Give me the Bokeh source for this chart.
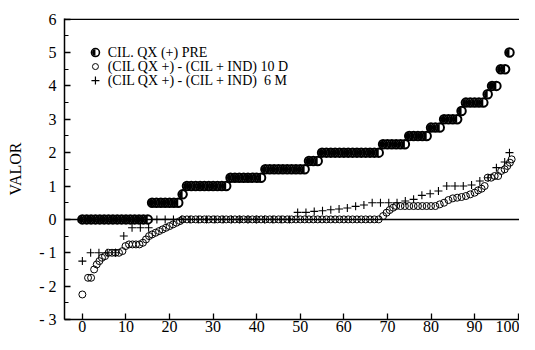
import math
from bokeh.plotting import figure
from bokeh.models import Range1d, Span, Label, FixedTicker
from bokeh.embed import file_html
from bokeh.resources import INLINE

# ---------------- data ----------------
# Series 1: CIL. QX (+) PRE
PRE_X = [0, 1, 2, 3, 4, 5, 6, 7, 8, 9, 10, 11, 12, 13, 14, 15,
         16, 17, 18, 19, 20, 21, 22, 23,
         24, 25, 26, 27, 28, 29, 30, 31, 32, 33,
         34, 35, 36, 37, 38, 39, 40, 41,
         42, 43, 44, 45, 46, 47, 48, 49, 50, 51,
         52, 53, 54,
         55, 56, 57, 58, 59, 60, 61, 62, 63, 64, 65, 66, 67, 68,
         69, 70, 71, 72, 73, 74,
         75, 76, 77, 78, 79,
         80, 81, 82,
         83, 84, 85, 86, 87,
         88, 89, 90, 91, 92, 93,
         94, 95, 96, 97, 98]
PRE_Y = [0, 0, 0, 0, 0, 0, 0, 0, 0, 0, 0, 0, 0, 0, 0, 0,
         0.5, 0.5, 0.5, 0.5, 0.5, 0.5, 0.5, 0.75,
         1.0, 1.0, 1.0, 1.0, 1.0, 1.0, 1.0, 1.0, 1.0, 1.0,
         1.25, 1.25, 1.25, 1.25, 1.25, 1.25, 1.25, 1.25,
         1.5, 1.5, 1.5, 1.5, 1.5, 1.5, 1.5, 1.5, 1.5, 1.5,
         1.75, 1.75, 1.75,
         2.0, 2.0, 2.0, 2.0, 2.0, 2.0, 2.0, 2.0, 2.0, 2.0, 2.0, 2.0, 2.0, 2.0,
         2.25, 2.25, 2.25, 2.25, 2.25, 2.25,
         2.5, 2.5, 2.5, 2.5, 2.5,
         2.75, 2.75, 2.75,
         3.0, 3.0, 3.0, 3.0, 3.25,
         3.5, 3.5, 3.5, 3.5, 3.5, 3.75,
         4.0, 4.0, 4.5, 4.5, 5.0]

# Series 2: (CIL QX +) - (CIL + IND) 10 D
D10_X = [0, 1.3, 2.0, 2.7, 3.3, 3.9, 4.5, 5.2, 6.0, 6.8, 7.6, 8.4, 9.2, 9.9,
         10.7, 11.5, 12.3, 13.1, 13.9, 14.6, 15.3, 16.0, 16.8, 17.6, 18.4,
         19.2, 20.0, 20.8, 21.6, 22.4,
         23, 24, 25, 26, 27, 28, 29, 30, 31, 32, 33, 34, 35, 36, 37, 38, 39,
         40, 41, 42, 43, 44, 45, 46, 47, 48, 49, 50, 51, 52, 53, 54, 55, 56,
         57, 58, 59, 60, 61, 62, 63, 64, 65, 66, 67, 68,
         69, 69.8, 70.5, 71.3, 72, 73, 74, 75, 76, 77, 78, 79, 80, 81, 82,
         83, 84, 85, 86, 87, 88, 89, 90, 90.8, 91.6, 92.3, 93, 93.8, 94.6,
         95.4, 96.1, 96.9, 97.5, 98.1, 98.5]
D10_Y = [-2.25, -1.75, -1.75, -1.5, -1.35, -1.25, -1.15, -1.1, -1.0, -1.0,
         -1.0, -1.0, -0.95, -0.8, -0.75, -0.75, -0.75, -0.75, -0.7, -0.6,
         -0.5, -0.45, -0.4, -0.35, -0.3, -0.25, -0.2, -0.15, -0.1, -0.05,
         0, 0, 0, 0, 0, 0, 0, 0, 0, 0, 0, 0, 0, 0, 0, 0, 0,
         0, 0, 0, 0, 0, 0, 0, 0, 0, 0, 0, 0, 0, 0, 0, 0, 0,
         0, 0, 0, 0, 0, 0, 0, 0, 0, 0, 0, 0,
         0.1, 0.2, 0.28, 0.35, 0.4, 0.4, 0.4, 0.4, 0.4, 0.4, 0.4, 0.4, 0.4,
         0.4, 0.45, 0.5, 0.58, 0.63, 0.65, 0.67, 0.7, 0.75, 0.8, 0.87, 0.92,
         1.0, 1.25, 1.25, 1.3, 1.3, 1.45, 1.5, 1.6, 1.7, 1.8]

# Series 3: (CIL QX +) - (CIL + IND) 6 M
M6_X = [0, 1.9, 3.8, 5.7, 7.6, 9.5, 11.4, 13.3, 15.2, 17.1, 19.0, 20.9,
        22.8, 24.7, 26.6, 28.5, 30.4, 32.3, 34.2, 36.1, 38.0, 39.9, 41.8,
        43.7, 45.6, 47.5, 49.4, 51.3, 53.2, 55.1, 57.0, 58.9, 60.8, 62.7,
        64.6, 66.5, 68.4, 70.3, 72.2, 74.1, 76.0, 77.9, 79.8, 81.7, 83.6,
        85.5, 87.4, 89.3, 91.2, 93.1, 95.0, 96.9, 98.0]
M6_Y = [-1.25, -1.0, -1.0, -1.0, -1.0, -0.5, -0.25, -0.25, -0.25, 0, 0, 0,
        0, 0, 0, 0, 0, 0, 0, 0, 0, 0, 0,
        0, 0, 0, 0.21, 0.21, 0.24, 0.26, 0.29, 0.31, 0.34, 0.39,
        0.43, 0.5, 0.5, 0.5, 0.5, 0.55, 0.6, 0.72, 0.77, 0.85, 1.0,
        1.0, 1.0, 1.03, 1.15, 1.25, 1.55, 1.72, 2.0]

Y_TICKS = [-3, -2, -1, 0, 1, 2, 3, 4, 5, 6]
Y_MINOR = [-2.5, -1.5, -0.5, 0.5, 1.5, 2.5, 3.5, 4.5, 5.5]
Y_LABELS = {-3: "- 3", -2: "- 2", -1: "- 1"}
X_TICKS = [0, 10, 20, 30, 40, 50, 60, 70, 80, 90, 100]

LEGEND = ["CIL. QX (+) PRE",
          "(CIL QX +) - (CIL + IND) 10 D",
          "(CIL QX +) - (CIL + IND)\u00a0\u00a06 M"]

FONT = "Liberation Serif"

# ---------------- figure ----------------
p = figure(width=519, height=334, output_backend="svg", toolbar_location=None,
           x_range=Range1d(-4.1, 100.3), y_range=Range1d(-3, 6.02),
           min_border_left=64, min_border_right=0, min_border_top=18,
           min_border_bottom=0)
p.xgrid.visible = False
p.ygrid.visible = False
p.outline_line_color = None
p.background_fill_color = "white"

for ax in (p.xaxis[0], p.yaxis[0]):
    ax.axis_line_color = "black"
    ax.axis_line_width = 1.5
    ax.major_tick_line_color = "black"
    ax.major_tick_line_width = 1.3
    ax.major_tick_in = 6
    ax.major_tick_out = 0
    ax.major_label_text_font = FONT
    ax.major_label_text_font_size = "16px"
    ax.major_label_text_color = "black"

p.yaxis.ticker = FixedTicker(ticks=Y_TICKS, minor_ticks=Y_MINOR)
p.yaxis.major_label_overrides = Y_LABELS
p.yaxis.minor_tick_in = 4
p.yaxis.minor_tick_out = 0
p.yaxis.minor_tick_line_color = "black"
p.yaxis.minor_tick_line_width = 1.2
p.yaxis.major_label_standoff = 8
p.yaxis.axis_label = "VALOR"
p.yaxis.axis_label_text_font = FONT
p.yaxis.axis_label_text_font_style = "normal"
p.yaxis.axis_label_text_font_size = "16px"
p.yaxis.axis_label_text_color = "black"
p.yaxis.axis_label_standoff = 12

p.xaxis.ticker = FixedTicker(ticks=X_TICKS, minor_ticks=[])
p.xaxis.minor_tick_line_color = None
p.xaxis.major_label_standoff = 1

# frame lines
p.add_layout(Span(location=0, dimension="width", line_color="black", line_width=1.5))
p.add_layout(Span(location=6, dimension="width", line_color="black", line_width=1.5))

# series
p.scatter(D10_X, D10_Y, marker="circle", size=7, fill_alpha=0,
          line_color="black", line_width=1)
p.scatter(M6_X, M6_Y, marker="cross", size=8, line_color="black", line_width=1.1)
p.scatter(PRE_X, PRE_Y, marker="circle", size=8.5, fill_color="white",
          line_color="black", line_width=2)
p.wedge(PRE_X, PRE_Y, radius=3.6, radius_units="screen",
        start_angle=math.pi / 2, end_angle=3 * math.pi / 2,
        fill_color="black", line_color=None)

# legend (layout positions in data units)
LEG_MX = 3.0
LEG_TX = 5.8
LEG_Y = [5.0, 4.58, 4.16]
p.scatter([LEG_MX], [LEG_Y[0]], marker="circle", size=8, fill_color="white",
          line_color="black", line_width=1.6)
p.wedge([LEG_MX], [LEG_Y[0]], radius=3.3, radius_units="screen",
        start_angle=math.pi / 2, end_angle=3 * math.pi / 2,
        fill_color="black", line_color=None)
p.scatter([LEG_MX], [LEG_Y[1]], marker="circle", size=6, fill_alpha=0,
          line_color="black", line_width=1)
p.scatter([LEG_MX], [LEG_Y[2]], marker="cross", size=8, line_color="black",
          line_width=1.2)
for txt, yy in zip(LEGEND, LEG_Y):
    p.add_layout(Label(x=LEG_TX, y=yy, text=txt, text_font=FONT,
                       text_font_size="14px", text_baseline="middle",
                       text_color="black"))

open("out.html", "w").write(file_html(p, INLINE))
